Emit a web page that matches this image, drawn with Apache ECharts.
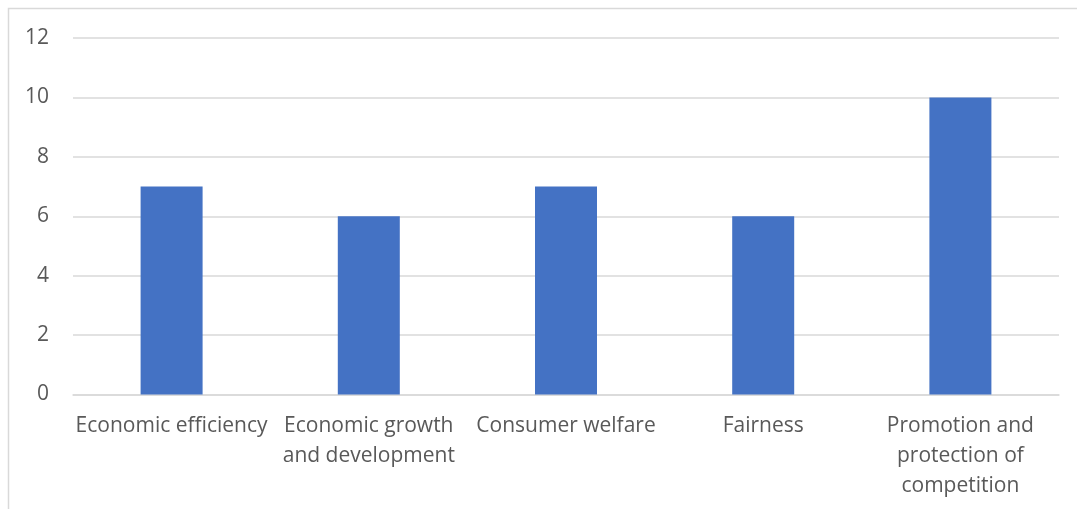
<!DOCTYPE html>
<html>
<head>
    <meta charset="utf-8">
    <title>chart</title>
    <script src="https://cdn.jsdelivr.net/npm/echarts@6/dist/echarts.min.js"></script>
    <style>
        html, body { margin: 0; padding: 0; background: #fff; }
        #chart { width: 1077px; height: 509px; }
    </style>
</head>
<body>
<div id="chart"></div>
<script type="text/javascript">
    var categories = ['Economic efficiency', 'Economic growth\nand development', 'Consumer welfare', 'Fairness', 'Promotion and\nprotection of\ncompetition'];
    var values = [7, 6, 7, 6, 10];
    var yTicks = [0, 2, 4, 6, 8, 10, 12];

    var myChart = echarts.init(document.getElementById('chart'));
    var option = {
        animation: false,
        textStyle: { fontFamily: 'Open Sans' },
        // light frame round the chart, cut off at right and bottom like the original
        graphic: [{
            type: 'rect',
            shape: { x: 8.5, y: 8.5, width: 1100, height: 600 },
            style: { fill: 'none', stroke: '#d9d9d9', lineWidth: 1.5 },
            silent: true
        }],
        grid: { left: 73, right: 18, top: 38, bottom: 114.5 },
        xAxis: {
            type: 'category',
            data: categories,
            axisLine: { lineStyle: { color: '#d9d9d9', width: 1.5 } },
            axisTick: { show: false },
            axisLabel: {
                color: '#595959', fontSize: 21, lineHeight: 30, margin: 17,
                interval: 0, align: 'center'
            }
        },
        yAxis: {
            type: 'value',
            min: yTicks[0],
            max: yTicks[yTicks.length - 1],
            interval: 2,
            axisLine: { show: false },
            axisTick: { show: false },
            splitLine: { lineStyle: { color: '#d9d9d9', width: 1.5 } },
            axisLabel: { color: '#595959', fontSize: 21, margin: 24 }
        },
        series: [{
            type: 'bar',
            data: values,
            barWidth: 62,
            itemStyle: { color: '#4472c4' }
        }]
    };
    myChart.setOption(option);
</script>
</body>
</html>
